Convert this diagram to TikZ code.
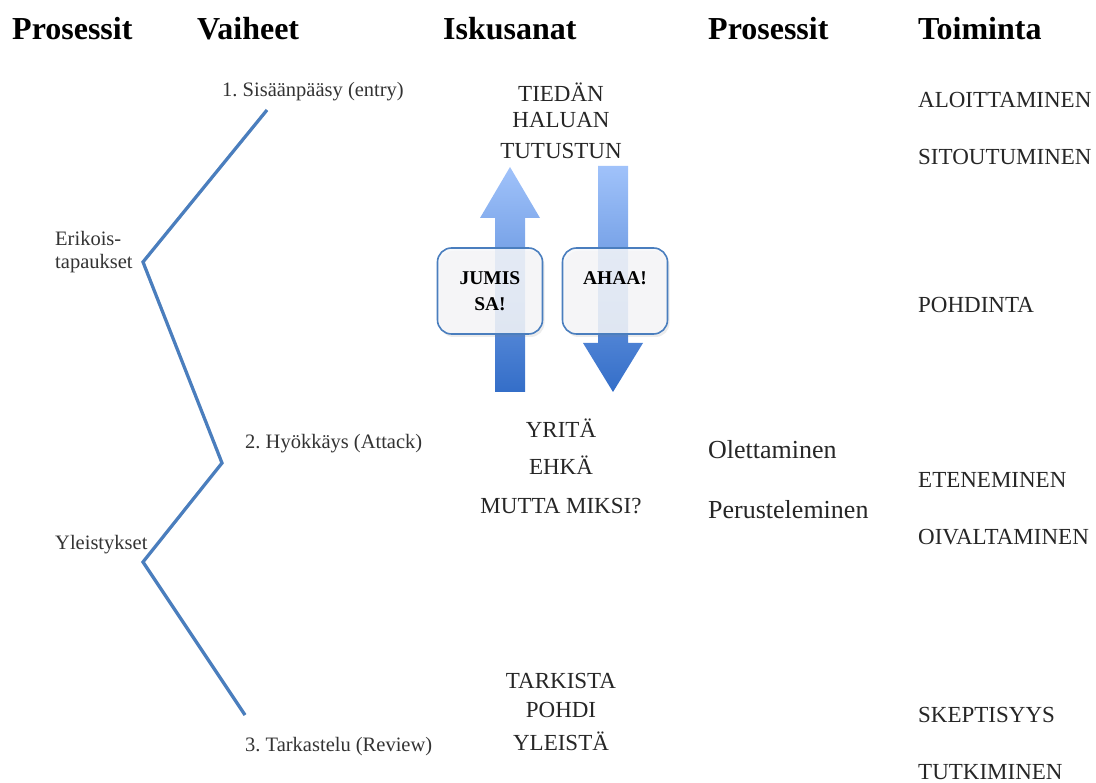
\documentclass[tikz,border=0pt]{standalone}
\usepackage{fontspec}
\setmainfont{Liberation Serif}
\usetikzlibrary{shadows}
\frenchspacing

\definecolor{zigblue}{RGB}{74,126,190}
\definecolor{arrowlight}{RGB}{160,194,250}
\definecolor{arrowdark}{RGB}{52,110,200}
\definecolor{boxgray}{RGB}{247,248,250}

\newcommand*{\pw}{1096}
\newcommand*{\ph}{783}
\newcommand*{\colA}{12}
\newcommand*{\colB}{197}
\newcommand*{\colC}{561}
\newcommand*{\colD}{708}
\newcommand*{\colE}{918}

\begin{document}
\begin{tikzpicture}[x=1pt,y=-1pt,
	head/.style={anchor=west,inner sep=0pt,font=\fontsize{32}{36}\selectfont\bfseries},
	phase/.style={anchor=west,inner sep=0pt,text=black!80,font=\fontsize{20.5}{24}\selectfont},
	word/.style={inner sep=0pt,text=black!85,font=\fontsize{23}{26}\selectfont},
	proc/.style={anchor=west,inner sep=0pt,text=black!85,font=\fontsize{26}{30}\selectfont},
	act/.style={anchor=west,inner sep=0pt,text=black!85,font=\fontsize{23}{26}\selectfont},
	notebox/.style={draw=zigblue,line width=1.6pt,rounded corners=14pt,
		fill=boxgray,fill opacity=0.85,text opacity=1,align=center,
		minimum width=105pt,minimum height=86pt,
		font=\fontsize{19.5}{26}\selectfont\bfseries,
		drop shadow={opacity=0.15,shadow xshift=2pt,shadow yshift=-3pt}},
	zig/.style={zigblue,line width=3.2pt}]

	\useasboundingbox (0,0) rectangle (\pw,\ph);

	% headers
	\node[head] (hproc) at (\colA,29) {Prosessit};
	\node[head] (hphase) at (\colB,29) {Vaiheet};
	\node[head] (hword) at (443,29) {Iskusanat};
	\node[head] (hproc2) at (\colD,29) {Prosessit};
	\node[head] (hact) at (\colE,29) {Toiminta};

	% zigzag
	\coordinate (z1) at (267,110);
	\coordinate (z2) at (143,262);
	\coordinate (z3) at (222,463);
	\coordinate (z4) at (143,562);
	\coordinate (z5) at (245,715);
	\draw[zig,black,opacity=0.12,shift={(2pt,-3pt)}] (z1) -- (z2) -- (z3) -- (z4) -- (z5);
	\draw[zig] (z1) -- (z2) -- (z3) -- (z4) -- (z5);

	\node[phase] (entry) at (222,92) {1. Sisäänpääsy (entry)};
	\node[phase] (erik) at (55,238) {Erikois-};
	\node[phase] (tapa) at (55,264) {tapaukset};
	\node[phase] (attack) at (245,444) {2. Hyökkäys (Attack)};
	\node[phase] (yleis) at (55,545) {Yleistykset};
	\node[phase] (review) at (245,747) {3. Tarkastelu (Review)};

	% arrows
	\shade[top color=arrowlight,bottom color=arrowdark]
		(495,392) -- (495,218) -- (480,218) -- (510,167) -- (540,218) -- (525,218) -- (525,392) -- cycle;
	\shade[top color=arrowlight,bottom color=arrowdark]
		(598,166) -- (628,166) -- (628,343) -- (643,343) -- (613,392) -- (583,343) -- (598,343) -- cycle;

	\node[notebox] (stuck) at (490,291) {JUMIS\\SA!};
	\node[notebox] (aha) at (615,291) {AHAA!\\\mbox{}};

	% keywords
	\node[word] (w1) at (\colC,92) {TIEDÄN};
	\node[word] (w2) at (\colC,120) {HALUAN};
	\node[word] (w3) at (\colC,151) {TUTUSTUN};
	\node[word] (w4) at (\colC,428) {YRITÄ};
	\node[word] (w5) at (\colC,465) {EHKÄ};
	\node[word] (w6) at (\colC,506) {MUTTA MIKSI?};
	\node[word] (w7) at (\colC,681) {TARKISTA};
	\node[word] (w8) at (\colC,710) {POHDI};
	\node[word] (w9) at (\colC,741) {YLEISTÄ};

	\node[proc] (olet) at (\colD,450) {Olettaminen};
	\node[proc] (peru) at (\colD,510) {Perusteleminen};

	% actions
	\node[act] (a1) at (\colE,100) {ALOITTAMINEN};
	\node[act] (a2) at (\colE,157) {SITOUTUMINEN};
	\node[act] (a3) at (\colE,305) {POHDINTA};
	\node[act] (a4) at (\colE,480) {ETENEMINEN};
	\node[act] (a5) at (\colE,537) {OIVALTAMINEN};
	\node[act] (a6) at (\colE,715) {SKEPTISYYS};
	\node[act] (a7) at (\colE,772) {TUTKIMINEN};

\end{tikzpicture}
\end{document}
